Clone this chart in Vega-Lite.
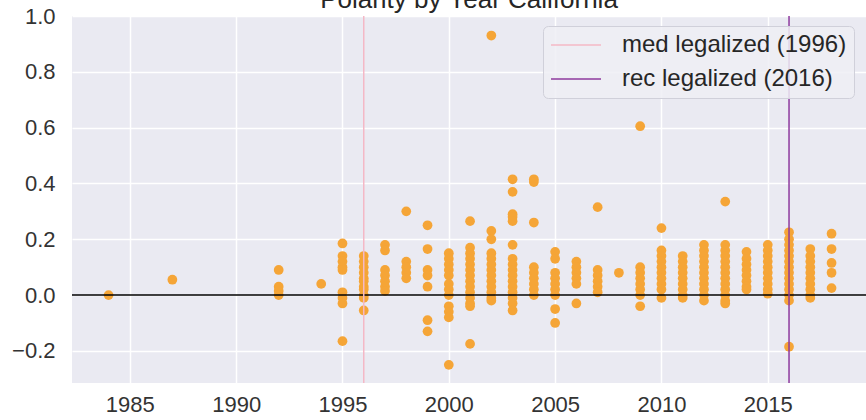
{
  "$schema": "https://vega.github.io/schema/vega-lite/v6.json",
  "autosize": {"type": "none"},
  "width": 794,
  "height": 367,
  "padding": {"left": 72, "top": 16, "right": 0, "bottom": 37},
  "background": "white",
  "title": {
    "text": "Polarity by Year California",
    "font": "Liberation Sans",
    "fontSize": 26,
    "fontWeight": "normal",
    "color": "#262626",
    "anchor": "middle",
    "baseline": "alphabetic",
    "offset": 0,
    "dy": 29
  },
  "config": {
    "view": {"fill": "#EAEAF2", "stroke": null},
    "axis": {
      "domain": false,
      "ticks": false,
      "grid": true,
      "gridColor": "#FFFFFF",
      "gridWidth": 1.5,
      "labelFont": "Liberation Sans",
      "labelFontSize": 22,
      "labelColor": "#333333",
      "labelFlush": false,
      "title": null
    }
  },
  "datasets": {
    "points": [
      {"year": 1984, "polarity": 0.0},
      {"year": 1987, "polarity": 0.055},
      {"year": 1992, "polarity": 0.09}, {"year": 1992, "polarity": 0.03}, {"year": 1992, "polarity": 0.015}, {"year": 1992, "polarity": 0.0},
      {"year": 1994, "polarity": 0.04},
      {"year": 1995, "polarity": 0.185}, {"year": 1995, "polarity": 0.14}, {"year": 1995, "polarity": 0.12}, {"year": 1995, "polarity": 0.10}, {"year": 1995, "polarity": 0.09}, {"year": 1995, "polarity": 0.01}, {"year": 1995, "polarity": -0.01}, {"year": 1995, "polarity": -0.03}, {"year": 1995, "polarity": -0.165},
      {"year": 1996, "polarity": 0.14}, {"year": 1996, "polarity": 0.12}, {"year": 1996, "polarity": 0.10}, {"year": 1996, "polarity": 0.08}, {"year": 1996, "polarity": 0.06}, {"year": 1996, "polarity": 0.05}, {"year": 1996, "polarity": 0.03}, {"year": 1996, "polarity": 0.02}, {"year": 1996, "polarity": 0.0}, {"year": 1996, "polarity": -0.01}, {"year": 1996, "polarity": -0.055},
      {"year": 1997, "polarity": 0.18}, {"year": 1997, "polarity": 0.16}, {"year": 1997, "polarity": 0.09}, {"year": 1997, "polarity": 0.07}, {"year": 1997, "polarity": 0.05}, {"year": 1997, "polarity": 0.03}, {"year": 1997, "polarity": 0.015},
      {"year": 1998, "polarity": 0.30}, {"year": 1998, "polarity": 0.12}, {"year": 1998, "polarity": 0.10}, {"year": 1998, "polarity": 0.08}, {"year": 1998, "polarity": 0.06},
      {"year": 1999, "polarity": 0.25}, {"year": 1999, "polarity": 0.165}, {"year": 1999, "polarity": 0.09}, {"year": 1999, "polarity": 0.07}, {"year": 1999, "polarity": 0.03}, {"year": 1999, "polarity": -0.09}, {"year": 1999, "polarity": -0.13},
      {"year": 2000, "polarity": 0.15}, {"year": 2000, "polarity": 0.13}, {"year": 2000, "polarity": 0.11}, {"year": 2000, "polarity": 0.09}, {"year": 2000, "polarity": 0.07}, {"year": 2000, "polarity": 0.04}, {"year": 2000, "polarity": 0.02}, {"year": 2000, "polarity": 0.0}, {"year": 2000, "polarity": -0.04}, {"year": 2000, "polarity": -0.06}, {"year": 2000, "polarity": -0.08}, {"year": 2000, "polarity": -0.25},
      {"year": 2001, "polarity": 0.265}, {"year": 2001, "polarity": 0.17}, {"year": 2001, "polarity": 0.15}, {"year": 2001, "polarity": 0.13}, {"year": 2001, "polarity": 0.11}, {"year": 2001, "polarity": 0.09}, {"year": 2001, "polarity": 0.07}, {"year": 2001, "polarity": 0.05}, {"year": 2001, "polarity": 0.03}, {"year": 2001, "polarity": 0.01}, {"year": 2001, "polarity": -0.01}, {"year": 2001, "polarity": -0.03}, {"year": 2001, "polarity": -0.04}, {"year": 2001, "polarity": -0.175},
      {"year": 2002, "polarity": 0.93}, {"year": 2002, "polarity": 0.23}, {"year": 2002, "polarity": 0.20}, {"year": 2002, "polarity": 0.15}, {"year": 2002, "polarity": 0.13}, {"year": 2002, "polarity": 0.11}, {"year": 2002, "polarity": 0.09}, {"year": 2002, "polarity": 0.07}, {"year": 2002, "polarity": 0.05}, {"year": 2002, "polarity": 0.03}, {"year": 2002, "polarity": 0.01}, {"year": 2002, "polarity": -0.01}, {"year": 2002, "polarity": -0.02},
      {"year": 2003, "polarity": 0.415}, {"year": 2003, "polarity": 0.37}, {"year": 2003, "polarity": 0.29}, {"year": 2003, "polarity": 0.28}, {"year": 2003, "polarity": 0.265}, {"year": 2003, "polarity": 0.18}, {"year": 2003, "polarity": 0.13}, {"year": 2003, "polarity": 0.11}, {"year": 2003, "polarity": 0.09}, {"year": 2003, "polarity": 0.07}, {"year": 2003, "polarity": 0.05}, {"year": 2003, "polarity": 0.03}, {"year": 2003, "polarity": 0.01}, {"year": 2003, "polarity": -0.01}, {"year": 2003, "polarity": -0.03}, {"year": 2003, "polarity": -0.055},
      {"year": 2004, "polarity": 0.415}, {"year": 2004, "polarity": 0.405}, {"year": 2004, "polarity": 0.26}, {"year": 2004, "polarity": 0.10}, {"year": 2004, "polarity": 0.08}, {"year": 2004, "polarity": 0.06}, {"year": 2004, "polarity": 0.04}, {"year": 2004, "polarity": 0.02}, {"year": 2004, "polarity": 0.0},
      {"year": 2005, "polarity": 0.155}, {"year": 2005, "polarity": 0.13}, {"year": 2005, "polarity": 0.08}, {"year": 2005, "polarity": 0.06}, {"year": 2005, "polarity": 0.04}, {"year": 2005, "polarity": 0.02}, {"year": 2005, "polarity": 0.0}, {"year": 2005, "polarity": -0.05}, {"year": 2005, "polarity": -0.10},
      {"year": 2006, "polarity": 0.12}, {"year": 2006, "polarity": 0.10}, {"year": 2006, "polarity": 0.08}, {"year": 2006, "polarity": 0.06}, {"year": 2006, "polarity": 0.04}, {"year": 2006, "polarity": -0.03},
      {"year": 2007, "polarity": 0.315}, {"year": 2007, "polarity": 0.09}, {"year": 2007, "polarity": 0.07}, {"year": 2007, "polarity": 0.05}, {"year": 2007, "polarity": 0.03}, {"year": 2007, "polarity": 0.01},
      {"year": 2008, "polarity": 0.08},
      {"year": 2009, "polarity": 0.605}, {"year": 2009, "polarity": 0.10}, {"year": 2009, "polarity": 0.08}, {"year": 2009, "polarity": 0.06}, {"year": 2009, "polarity": 0.04}, {"year": 2009, "polarity": 0.02}, {"year": 2009, "polarity": 0.0}, {"year": 2009, "polarity": -0.04},
      {"year": 2010, "polarity": 0.24}, {"year": 2010, "polarity": 0.16}, {"year": 2010, "polarity": 0.14}, {"year": 2010, "polarity": 0.12}, {"year": 2010, "polarity": 0.10}, {"year": 2010, "polarity": 0.08}, {"year": 2010, "polarity": 0.06}, {"year": 2010, "polarity": 0.04}, {"year": 2010, "polarity": 0.02}, {"year": 2010, "polarity": -0.01},
      {"year": 2011, "polarity": 0.14}, {"year": 2011, "polarity": 0.12}, {"year": 2011, "polarity": 0.10}, {"year": 2011, "polarity": 0.08}, {"year": 2011, "polarity": 0.06}, {"year": 2011, "polarity": 0.04}, {"year": 2011, "polarity": 0.02}, {"year": 2011, "polarity": 0.0}, {"year": 2011, "polarity": -0.01},
      {"year": 2012, "polarity": 0.18}, {"year": 2012, "polarity": 0.16}, {"year": 2012, "polarity": 0.14}, {"year": 2012, "polarity": 0.12}, {"year": 2012, "polarity": 0.10}, {"year": 2012, "polarity": 0.08}, {"year": 2012, "polarity": 0.06}, {"year": 2012, "polarity": 0.04}, {"year": 2012, "polarity": 0.02}, {"year": 2012, "polarity": 0.0}, {"year": 2012, "polarity": -0.02},
      {"year": 2013, "polarity": 0.335}, {"year": 2013, "polarity": 0.18}, {"year": 2013, "polarity": 0.16}, {"year": 2013, "polarity": 0.14}, {"year": 2013, "polarity": 0.12}, {"year": 2013, "polarity": 0.10}, {"year": 2013, "polarity": 0.08}, {"year": 2013, "polarity": 0.06}, {"year": 2013, "polarity": 0.04}, {"year": 2013, "polarity": 0.02}, {"year": 2013, "polarity": 0.0}, {"year": 2013, "polarity": -0.02}, {"year": 2013, "polarity": -0.03},
      {"year": 2014, "polarity": 0.155}, {"year": 2014, "polarity": 0.13}, {"year": 2014, "polarity": 0.11}, {"year": 2014, "polarity": 0.09}, {"year": 2014, "polarity": 0.07}, {"year": 2014, "polarity": 0.05}, {"year": 2014, "polarity": 0.03}, {"year": 2014, "polarity": 0.02},
      {"year": 2015, "polarity": 0.18}, {"year": 2015, "polarity": 0.16}, {"year": 2015, "polarity": 0.14}, {"year": 2015, "polarity": 0.12}, {"year": 2015, "polarity": 0.10}, {"year": 2015, "polarity": 0.08}, {"year": 2015, "polarity": 0.06}, {"year": 2015, "polarity": 0.04}, {"year": 2015, "polarity": 0.02}, {"year": 2015, "polarity": 0.005},
      {"year": 2016, "polarity": 0.225}, {"year": 2016, "polarity": 0.20}, {"year": 2016, "polarity": 0.18}, {"year": 2016, "polarity": 0.16}, {"year": 2016, "polarity": 0.14}, {"year": 2016, "polarity": 0.12}, {"year": 2016, "polarity": 0.10}, {"year": 2016, "polarity": 0.08}, {"year": 2016, "polarity": 0.06}, {"year": 2016, "polarity": 0.04}, {"year": 2016, "polarity": 0.02}, {"year": 2016, "polarity": 0.0}, {"year": 2016, "polarity": -0.02}, {"year": 2016, "polarity": -0.185},
      {"year": 2017, "polarity": 0.165}, {"year": 2017, "polarity": 0.14}, {"year": 2017, "polarity": 0.12}, {"year": 2017, "polarity": 0.10}, {"year": 2017, "polarity": 0.08}, {"year": 2017, "polarity": 0.06}, {"year": 2017, "polarity": 0.04}, {"year": 2017, "polarity": 0.02}, {"year": 2017, "polarity": 0.0}, {"year": 2017, "polarity": -0.01},
      {"year": 2018, "polarity": 0.22}, {"year": 2018, "polarity": 0.165}, {"year": 2018, "polarity": 0.115}, {"year": 2018, "polarity": 0.08}, {"year": 2018, "polarity": 0.025}
    ],
    "events": [
      {"year": 1996, "label": "med legalized (1996)"},
      {"year": 2016, "label": "rec legalized (2016)"}
    ],
    "zero": [{"value": 0}]
  },
  "layer": [
    {
      "data": {"name": "points"},
      "mark": {"type": "point", "shape": "circle", "filled": true, "opacity": 1, "size": 95, "color": "#F5A537"},
      "encoding": {
        "x": {
          "field": "year", "type": "quantitative",
          "scale": {"domain": [1982.28, 2019.62], "nice": false, "zero": false},
          "axis": {"values": [1985, 1990, 1995, 2000, 2005, 2010, 2015], "format": "d", "labelPadding": 11}
        },
        "y": {
          "field": "polarity", "type": "quantitative",
          "scale": {"domain": [-0.315, 1.0], "nice": false, "zero": false},
          "axis": {"values": [-0.2, 0, 0.2, 0.4, 0.6, 0.8, 1.0], "format": ".1f", "labelPadding": 17}
        }
      }
    },
    {
      "data": {"name": "zero"},
      "mark": {"type": "rule", "color": "#000000", "strokeWidth": 1.5},
      "encoding": {"y": {"field": "value", "type": "quantitative"}}
    },
    {
      "data": {"name": "events"},
      "mark": {"type": "rule", "strokeWidth": 1.5},
      "encoding": {
        "x": {"field": "year", "type": "quantitative"},
        "color": {
          "field": "label", "type": "nominal",
          "scale": {"domain": ["med legalized (1996)", "rec legalized (2016)"], "range": ["#F4B8C6", "#8E3A9E"]},
          "legend": {
            "title": null,
            "orient": "none",
            "legendX": 471,
            "legendY": 10,
            "symbolType": "stroke",
            "symbolSize": 2500,
            "symbolStrokeWidth": 1.5,
            "clipHeight": 24,
            "labelFont": "Liberation Sans",
            "labelFontSize": 24,
            "labelColor": "#262626",
            "labelOffset": 20,
            "labelLimit": 500,
            "rowPadding": 10,
            "padding": 7,
            "fillColor": "rgba(238,238,244,0.85)",
            "strokeColor": "#D0D0DA",
            "cornerRadius": 5
          }
        }
      }
    }
  ]
}
